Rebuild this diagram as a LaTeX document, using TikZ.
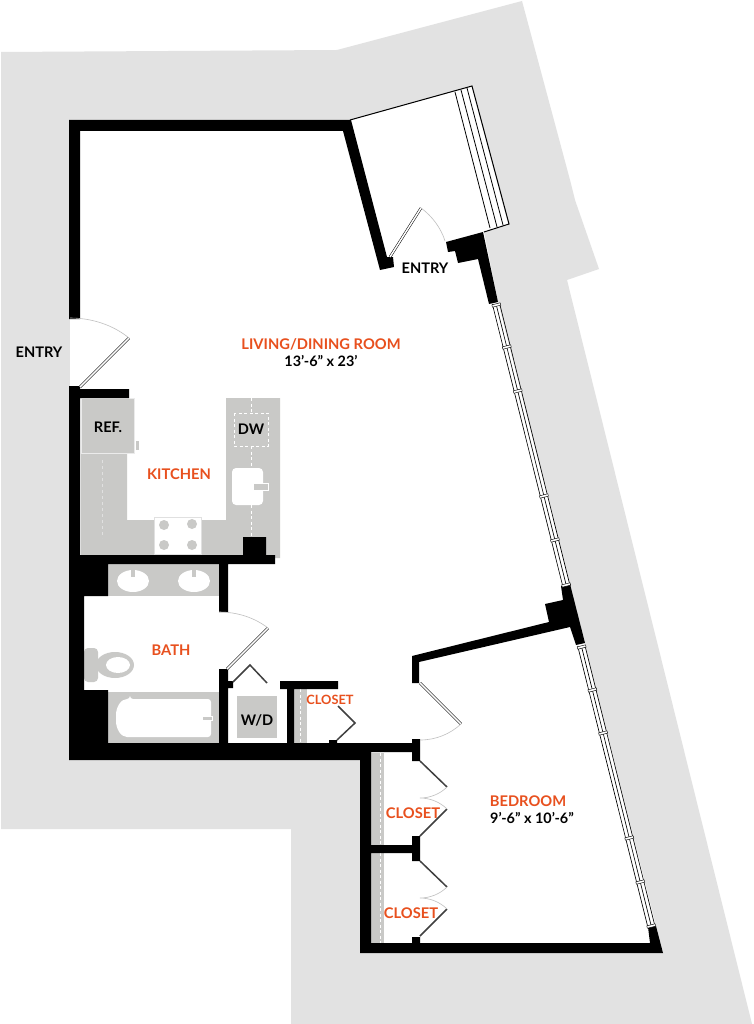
\documentclass[tikz,border=0pt]{standalone}
\usepackage{fontspec}
\setmainfont{Lato}
\definecolor{siteGrey}{HTML}{E2E2E2}
\definecolor{fixGrey}{HTML}{C9C9C7}
\definecolor{roomOrange}{HTML}{E8501E}
\tikzset{
  wall/.style     = {fill=black},
  fixture/.style  = {fill=fixGrey},
  cutout/.style   = {fill=white},
  doorleaf/.style = {draw=black, line width=0.5pt, double=white, double distance=1.5pt},
  doorswing/.style = {draw=black!25, line width=0.6pt},
  bifold/.style   = {draw=black!75, line width=1.5pt},
  glazing/.style  = {draw=black, line width=0.65pt},
  sash/.style     = {draw=black, line width=0.45pt, fill=white},
  guide/.style    = {draw=white, line width=0.8pt, dashed, dash pattern=on 3pt off 2.5pt},
  room/.style     = {text=roomOrange, font=\fontsize{14.7}{16}\bfseries},
  size/.style     = {text=black, font=\fontsize{14.4}{15}\bfseries},
  tag/.style      = {text=black, font=\fontsize{14.6}{16}\bfseries}
}
\begin{document}
\begin{tikzpicture}[x=1pt,y=-1pt]
  \useasboundingbox[fill=white] (0,0) rectangle (753,1024);

  % site outline and the white floor
  \fill[siteGrey] (1,52) -- (337,50) -- (522,1) -- (570,180) -- (575,200) -- (599,269) -- (567,280)
    -- (752,1024) -- (291,1024) -- (291,829) -- (1,829) -- cycle;
  \fill[white] (70,120) -- (350,120) -- (509,224) -- (484,232) -- (498,302) -- (656,926) -- (663,953)
    -- (360,953) -- (360,760) -- (70,760) -- cycle;

  % balcony
  \fill[white] (350,120.5) -- (471.5,86.8) -- (508,223.5) -- (446,241) -- (390,258) -- cycle;
  \draw[black, line width=1pt] (350,120) -- (472,86) -- (509,224) -- (484,232);
  \draw[black, line width=0.8pt] (455,92) -- (490,228);
  \draw[black, line width=0.8pt] (461,90) -- (497,227);
  \draw[black, line width=0.8pt] (467,88) -- (503,225);

  % kitchen counters
  \fill[fixture] (81,453) -- (127,453) -- (127,520) -- (226,520) -- (226,398) -- (280,398) -- (280,558)
    -- (81,558) -- cycle;
  \draw[fixture, draw=black!8] (81,398) rectangle (134,453);
  \fill[fixture] (136,441) rectangle (139,450);
  \draw[draw=black!12, line width=0.7pt, dashed] (102,460) -- (102,538);
  \foreach \ya/\yb in {398/413, 446/468, 505/537}
    \draw[guide] (251,\ya) -- (251,\yb);
  \draw[guide] (234,413) rectangle (268,446);
  \fill[cutout, rounded corners=4pt] (232,468) rectangle (263,505);
  \draw[fixture, draw=white, line width=0.8pt] (253,483) rectangle (268,490);
  \draw[cutout, draw=black!12, line width=0.6pt] (154,517) rectangle (201,554);
  \foreach \bx/\by in {164/525, 192/524, 164/545, 192/545}
    \fill[fixGrey] (\bx,\by) circle (5);

  % bath fixtures
  \fill[fixture] (108,564) rectangle (219,596);
  \foreach \sx in {133,194} {
    \fill[cutout] (\sx,581) ellipse (16 and 11);
    \fill[fixture] (\sx-2,567) rectangle (\sx+2,577);
  }
  \fill[fixture, rounded corners=4pt] (84,648) rectangle (98,682);
  \fill[fixture] (115,665) ellipse (19 and 13);
  \fill[cutout] (118,665) ellipse (12 and 8);
  \fill[fixture] (108,692) rectangle (219,743);
  \fill[cutout, rounded corners=3pt] (130,699) -- (211,699) -- (211,737) -- (130,737)
    .. controls (121,737) and (116,729) .. (116,718) .. controls (116,707) and (121,699) .. (130,699) -- cycle;
  \draw[fixture, draw=white, line width=0.8pt] (202,716) rectangle (212,720);

  % closet shelves and washer
  \fill[fixture] (237,696) rectangle (277,738);
  \fill[fixture] (294,689) rectangle (307,743);
  \draw[guide] (300,689) -- (300,743);
  \foreach \ya/\yb in {753/845, 853/943} {
    \fill[fixture] (371,\ya) rectangle (384,\yb);
    \draw[guide] (380,\ya) -- (380,\yb);
  }

  % walls
  \fill[wall] (69,120) -- (351,120) -- (387,257) -- (393,257) -- (394,267) -- (380,270) -- (343,131)
    -- (80,131) -- (80,319) -- (69,319) -- cycle;
  \fill[wall] (69,386) -- (80,386) -- (80,389) -- (129,389) -- (129,398) -- (80,398) -- (80,555)
    -- (243,555) -- (243,537) -- (266,537) -- (266,555) -- (275,555) -- (275,564) -- (228,564)
    -- (228,612) -- (219,612) -- (219,564) -- (108,564) -- (108,596) -- (84,596) -- (84,690)
    -- (108,690) -- (108,743) -- (219,743) -- (219,669) -- (228,669) -- (228,681) -- (233,681)
    -- (233,688) -- (228,688) -- (228,743) -- (287,743) -- (287,689) -- (280,689) -- (280,681)
    -- (338,681) -- (338,689) -- (294,689) -- (294,743) -- (329,743) -- (329,740) -- (337,740)
    -- (337,743) -- (412,743) -- (412,739) -- (420,739) -- (420,761) -- (412,761) -- (412,752)
    -- (371,752) -- (371,845) -- (412,845) -- (412,836) -- (420,836) -- (420,861) -- (412,861)
    -- (412,853) -- (371,853) -- (371,943) -- (412,943) -- (412,937) -- (420,937) -- (420,943)
    -- (650,943) -- (648,927) -- (656,926) -- (663,953) -- (360,953) -- (360,760) -- (69,760) -- cycle;
  \fill[wall] (446,242) -- (483,232) -- (498,302) -- (489,304) -- (478,259) -- (458,263) -- (455,251)
    -- (448,252) -- cycle;
  \fill[wall] (412,656) -- (549,622) -- (545,604) -- (563,600) -- (561,586) -- (570,584) -- (585,643)
    -- (576,645) -- (570,627) -- (419,662) -- (419,683) -- (412,683) -- cycle;

  % window wall
  \foreach \ya/\yb in {304/586, 646/927}
    \foreach \off in {-3.7,0,3.7}
      \draw[glazing] (\ya*0.2495+420.2+\off,\ya) -- (\yb*0.2495+420.2+\off,\yb);
  \foreach \yc in {305,347,391,496,540,585,647,690,733,838,882,926}
    \draw[sash, shift={(\yc*0.2495+420.2,\yc)}, rotate=14] (-4.3,-1.2) rectangle (4.3,1.2);

  % doors
  \draw[doorleaf] (390,257) -- (421,208);
  \draw[doorswing] (421,208) .. controls (432,216) and (441,228) .. (445,241);
  \draw[doorleaf] (80,387) -- (129,338);
  \draw[doorswing] (129,338) .. controls (113,325) and (92,318) .. (70,318);
  \draw[doorleaf] (227,669) -- (268,628);
  \draw[doorswing] (268,628) .. controls (255,618) and (238,612) .. (219,612);
  \draw[doorleaf] (420,683) -- (461,724);
  \draw[doorswing] (461,724) .. controls (450,734) and (436,740) .. (420,740);

  % bifold doors
  \draw[bifold] (233,682) -- (250,665) -- (267,683);
  \draw[bifold] (338,706) -- (355,723) -- (337,740);
  \foreach \yo in {0,100} {
    \draw[bifold, yshift=-\yo] (420,761) -- (447,787);
    \draw[bifold, yshift=-\yo] (447,809) -- (420,836);
    \draw[doorswing, yshift=-\yo] (447,787) .. controls (440,794) and (430,798) .. (420,798)
      .. controls (430,798) and (440,802) .. (447,809);
  }

  % labels
  \node[tag] (entryWest) at (39,352.5) {ENTRY};
  \node[tag] (entryBalcony) at (425,268.5) {ENTRY};
  \node[room] (living) at (321,344) {LIVING/DINING ROOM};
  \node[size] (livingSize) at (321,361.5) {13’-6” x 23’};
  \node[room] (kitchen) at (179,474) {KITCHEN};
  \node[room] (bath) at (171,650) {BATH};
  \node[room] (bedroom) at (528,801) {BEDROOM};
  \node[size] (bedroomSize) at (532,817.5) {9’-6” x 10’-6”};
  \node[tag] (ref) at (108,427.5) {REF.};
  \node[tag] (dw) at (251,429.5) {DW};
  \node[tag] (wd) at (257,720.5) {W/D};
  \node[room, font=\fontsize{12.8}{14}\bfseries] (closetHall) at (330,700) {CLOSET};
  \node[room] (closetUpper) at (413,813.5) {CLOSET};
  \node[room] (closetLower) at (411,913.5) {CLOSET};
\end{tikzpicture}
\end{document}
